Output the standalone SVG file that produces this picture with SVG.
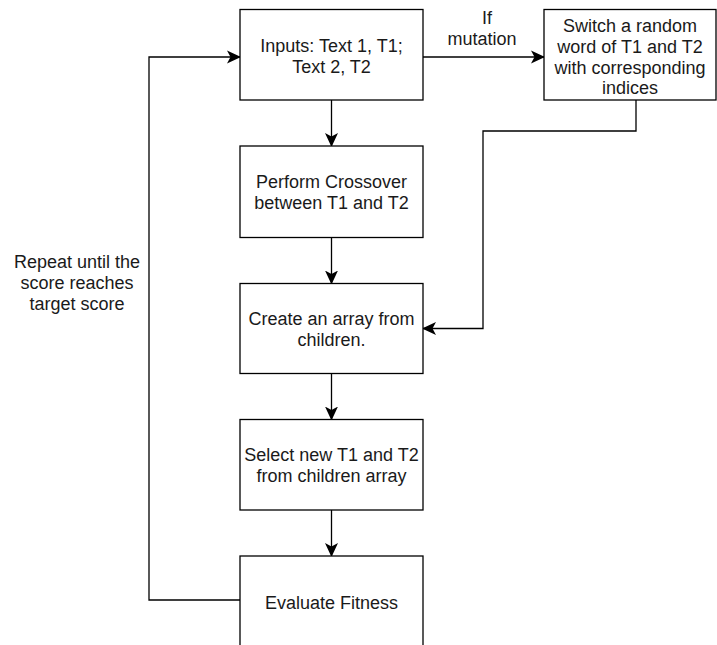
<svg xmlns="http://www.w3.org/2000/svg" width="717" height="645" viewBox="0 0 717 645">
<defs>
<marker id="arr" viewBox="0 0 14 14" refX="13" refY="7" markerWidth="14" markerHeight="14" markerUnits="userSpaceOnUse" orient="auto">
<path d="M0,0.5 L14,7 L0,13.5 L3.5,7 Z" fill="#000"/>
</marker>
<style>
.box{fill:#fff;stroke:#000;stroke-width:1.3}
.t{font-family:"Liberation Sans",Arial,sans-serif;font-size:18px;fill:#1a1a1a;text-anchor:middle}
.c{fill:none;stroke:#000;stroke-width:1.3}
</style>
</defs>
<rect width="717" height="645" fill="#fff"/>
<g id="connectors">
<path class="c" d="M331.5,100 V146" marker-end="url(#arr)"/>
<path class="c" d="M331.5,237.5 V283.5" marker-end="url(#arr)"/>
<path class="c" d="M331.5,373.5 V419.5" marker-end="url(#arr)"/>
<path class="c" d="M331.5,510 V556" marker-end="url(#arr)"/>
<path class="c" d="M423,57 H544" marker-end="url(#arr)"/>
<path class="c" d="M636,100 V131 H483 V328.5 H423" marker-end="url(#arr)"/>
<path class="c" d="M240,600 H149 V57 H240" marker-end="url(#arr)"/>
<text class="t" x="487" y="24">If</text>
<text class="t" x="482" y="45">mutation</text>
<text class="t" x="77" y="268">Repeat until the</text>
<text class="t" x="77" y="289">score reaches</text>
<text class="t" x="77" y="310">target score</text>
</g>
<g id="n1">
<rect class="box" x="240" y="9.5" width="183" height="90.5"/>
<text class="t" x="331.5" y="52">Inputs: Text 1, T1;</text>
<text class="t" x="331.5" y="73">Text 2, T2</text>
</g>
<g id="n2">
<rect class="box" x="544" y="9.5" width="172" height="90.5"/>
<text class="t" x="630" y="31.5">Switch a random</text>
<text class="t" x="630" y="52.5">word of T1 and T2</text>
<text class="t" x="630" y="73.5">with corresponding</text>
<text class="t" x="630" y="94">indices</text>
</g>
<g id="n3">
<rect class="box" x="240" y="146" width="183" height="91.5"/>
<text class="t" x="331.5" y="188">Perform Crossover</text>
<text class="t" x="331.5" y="209">between T1 and T2</text>
</g>
<g id="n4">
<rect class="box" x="240" y="283.5" width="183" height="90"/>
<text class="t" x="331.5" y="325">Create an array from</text>
<text class="t" x="331.5" y="346">children.</text>
</g>
<g id="n5">
<rect class="box" x="240" y="419.5" width="183" height="90.5"/>
<text class="t" x="331.5" y="461">Select new T1 and T2</text>
<text class="t" x="331.5" y="482">from children array</text>
</g>
<g id="n6">
<rect class="box" x="240" y="556" width="183" height="100"/>
<text class="t" x="331.5" y="609">Evaluate Fitness</text>
</g>
</svg>
